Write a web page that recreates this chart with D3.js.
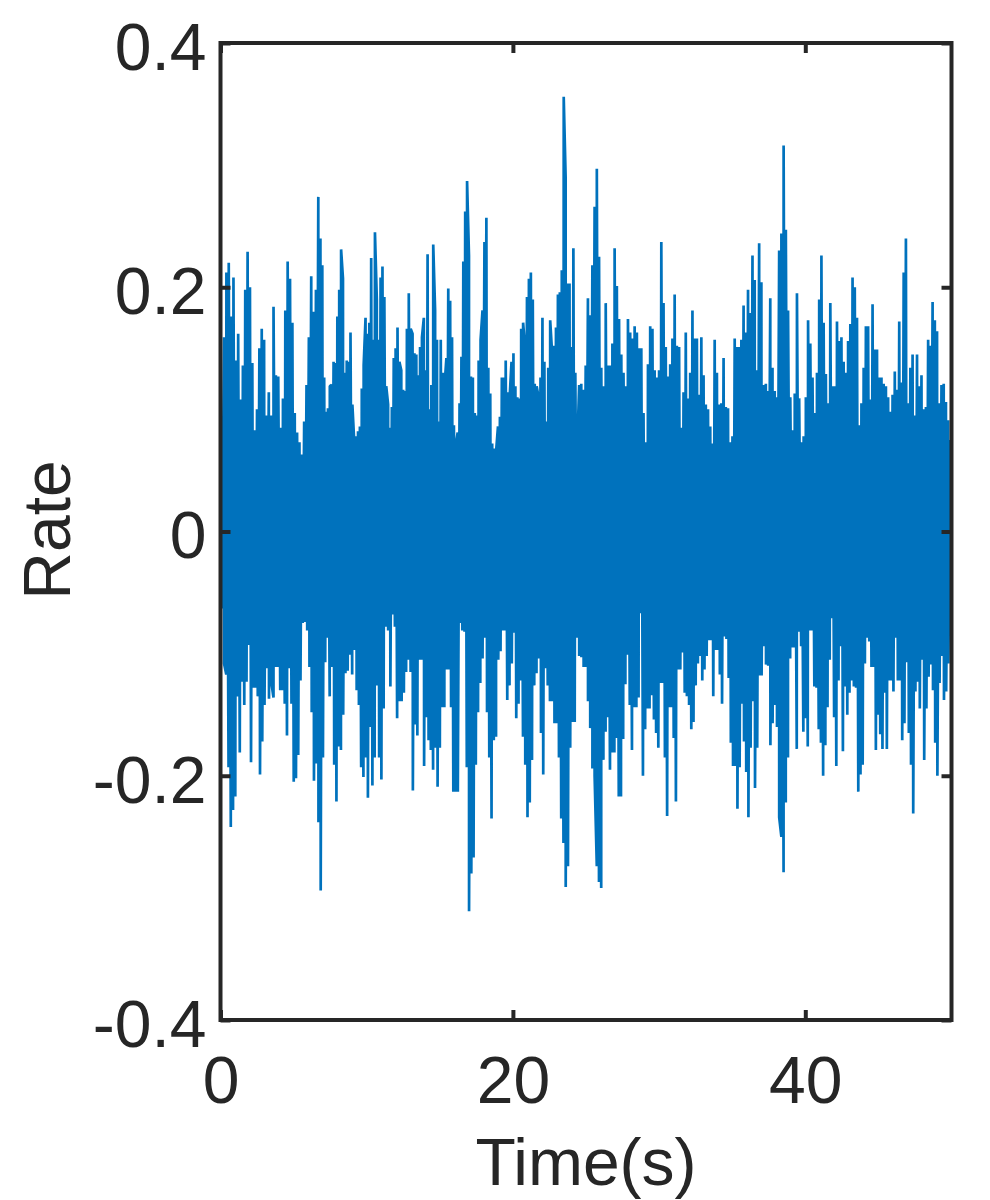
<!DOCTYPE html>
<html>
<head>
<meta charset="utf-8">
<script src="https://cdn.jsdelivr.net/npm/d3@7"></script>
<style>
  html, body { margin: 0; padding: 0; background: #fff; }
  svg { display: block; }
</style>
</head>
<body>
<script>
// ---- Data ----
const xTicks = [0, 20, 40];
const yTicks = [-0.4, -0.2, 0, 0.2, 0.4];
const yTickLabels = ["-0.4", "-0.2", "0", "0.2", "0.4"];
const xLabel = "Time(s)";
const yLabel = "Rate";

// upper excursions (local maxima) of the signal, in time order, in four stretches
const upperBounds = [0, 6.77, 16.93, 24.6, 50]; // times (s) that bound each stretch
const upperPart1 = [0.069, 0.159, 0.212, 0.22, 0.176, 0.208, 0.14, 0.162, 0.108, 0.136, 0.198, 0.229, 0.2, 0.138, 0.083, 0.1, 0.15, 0.166, 0.157, 0.095, 0.114, 0.095, 0.184, 0.128, 0.127, 0.085, 0.109, 0.181, 0.221, 0.207, 0.171, 0.097, 0.081, 0.073, 0.063, 0.09, 0.12, 0.159, 0.209, 0.18, 0.198, 0.274];
const upperPart2 = [0.24, 0.218, 0.126, 0.098, 0.101, 0.119, 0.12, 0.139, 0.138, 0.176, 0.198, 0.231, 0.207, 0.13, 0.14, 0.139, 0.163, 0.104, 0.073, 0.078, 0.082, 0.086, 0.117, 0.136, 0.175, 0.162, 0.171, 0.224, 0.157, 0.245, 0.19, 0.157, 0.208, 0.217, 0.192, 0.119, 0.104, 0.085, 0.102, 0.142, 0.15, 0.167, 0.139, 0.132, 0.116, 0.115, 0.166, 0.195, 0.166, 0.162, 0.146, 0.145, 0.128, 0.151, 0.159, 0.175, 0.132, 0.227, 0.1, 0.12, 0.235, 0.181, 0.157, 0.09, 0.157, 0.13, 0.119, 0.142, 0.199, 0.189, 0.159, 0.087, 0.071, 0.081, 0.105, 0.143, 0.221, 0.262, 0.287];
const upperPart3 = [0.226, 0.127, 0.126, 0.097, 0.095, 0.14, 0.157, 0.181, 0.237, 0.257, 0.134, 0.113, 0.072, 0.068, 0.065, 0.086, 0.094, 0.126, 0.126, 0.14, 0.114, 0.109, 0.139, 0.146, 0.119, 0.11, 0.109, 0.166, 0.171, 0.151, 0.192, 0.207, 0.212, 0.19, 0.121, 0.119, 0.11, 0.126, 0.175, 0.139, 0.09, 0.134, 0.173, 0.146, 0.152, 0.167, 0.194, 0.196, 0.214, 0.356, 0.29, 0.203, 0.203, 0.151, 0.232, 0.13, 0.069, 0.12];
const upperPart4 = [0.121, 0.116, 0.136, 0.191, 0.177, 0.218, 0.266, 0.297, 0.225, 0.134, 0.119, 0.187, 0.136, 0.136, 0.154, 0.232, 0.201, 0.174, 0.145, 0.13, 0.119, 0.174, 0.163, 0.158, 0.168, 0.163, 0.15, 0.15, 0.097, 0.073, 0.137, 0.168, 0.166, 0.132, 0.126, 0.132, 0.237, 0.187, 0.151, 0.127, 0.137, 0.158, 0.194, 0.152, 0.151, 0.085, 0.114, 0.163, 0.109, 0.13, 0.181, 0.158, 0.158, 0.112, 0.159, 0.128, 0.104, 0.1, 0.086, 0.072, 0.157, 0.13, 0.104, 0.105, 0.142, 0.102, 0.101, 0.073, 0.078, 0.158, 0.151, 0.151, 0.157, 0.185, 0.163, 0.198, 0.179, 0.226, 0.206, 0.132, 0.236, 0.204, 0.12, 0.121, 0.115, 0.191, 0.134, 0.115, 0.11, 0.23, 0.244, 0.316, 0.247, 0.181, 0.11, 0.083, 0.113, 0.195, 0.109, 0.073, 0.078, 0.11, 0.173, 0.154, 0.126, 0.097, 0.13, 0.19, 0.226, 0.171, 0.129, 0.105, 0.187, 0.119, 0.119, 0.172, 0.156, 0.159, 0.139, 0.13, 0.156, 0.17, 0.208, 0.2, 0.175, 0.087, 0.105, 0.134, 0.168, 0.168, 0.108, 0.186, 0.149, 0.149, 0.126, 0.126, 0.121, 0.119, 0.11, 0.098, 0.112, 0.131, 0.116, 0.172, 0.122, 0.212, 0.24, 0.105, 0.134, 0.145, 0.095, 0.145, 0.119, 0.128, 0.1, 0.102, 0.157, 0.152, 0.188, 0.173, 0.164, 0.105, 0.12, 0.121, 0.106, 0.091, 0.075];

// lower excursions (local minima) of the signal, in time order, in two stretches
const lowerBounds = [0, 24.6, 50];
const lowerPart1 = [-0.063, -0.108, -0.117, -0.193, -0.242, -0.228, -0.217, -0.135, -0.181, -0.123, -0.142, -0.123, -0.093, -0.189, -0.128, -0.128, -0.135, -0.199, -0.172, -0.142, -0.112, -0.137, -0.123, -0.136, -0.111, -0.111, -0.13, -0.13, -0.141, -0.167, -0.112, -0.141, -0.205, -0.202, -0.183, -0.122, -0.075, -0.074, -0.081, -0.111, -0.148, -0.204, -0.19, -0.238, -0.294, -0.185, -0.107, -0.087, -0.135, -0.111, -0.191, -0.221, -0.176, -0.179, -0.15, -0.116, -0.114, -0.101, -0.117, -0.097, -0.13, -0.142, -0.193, -0.201, -0.185, -0.218, -0.16, -0.208, -0.185, -0.126, -0.185, -0.203, -0.145, -0.078, -0.081, -0.127, -0.068, -0.078, -0.153, -0.139, -0.139, -0.132, -0.115, -0.105, -0.115, -0.212, -0.158, -0.167, -0.105, -0.105, -0.192, -0.152, -0.171, -0.179, -0.195, -0.177, -0.209, -0.177, -0.144, -0.144, -0.113, -0.113, -0.144, -0.213, -0.213, -0.213, -0.075, -0.081, -0.082, -0.193, -0.311, -0.28, -0.267, -0.191, -0.148, -0.124, -0.104, -0.087, -0.148, -0.185, -0.235, -0.171, -0.168, -0.105, -0.098, -0.081, -0.081, -0.138, -0.126, -0.108, -0.083, -0.153, -0.141, -0.122, -0.168, -0.191, -0.234, -0.222, -0.187, -0.126, -0.116, -0.104, -0.165, -0.199, -0.112, -0.126, -0.139, -0.139, -0.157, -0.157, -0.185, -0.235, -0.255, -0.291, -0.274, -0.177, -0.156, -0.156, -0.087, -0.102];
const lowerPart2 = [-0.103, -0.111, -0.111, -0.139, -0.161, -0.194, -0.2, -0.274, -0.287, -0.292, -0.187, -0.164, -0.152, -0.195, -0.181, -0.181, -0.169, -0.217, -0.217, -0.17, -0.125, -0.101, -0.142, -0.179, -0.144, -0.144, -0.136, -0.067, -0.2, -0.162, -0.145, -0.145, -0.134, -0.154, -0.165, -0.177, -0.124, -0.124, -0.185, -0.233, -0.144, -0.144, -0.169, -0.221, -0.113, -0.113, -0.099, -0.132, -0.135, -0.142, -0.162, -0.156, -0.126, -0.108, -0.102, -0.122, -0.113, -0.102, -0.089, -0.089, -0.135, -0.097, -0.097, -0.117, -0.141, -0.086, -0.088, -0.12, -0.173, -0.192, -0.192, -0.227, -0.193, -0.141, -0.172, -0.197, -0.234, -0.177, -0.139, -0.21, -0.177, -0.118, -0.118, -0.094, -0.109, -0.11, -0.175, -0.157, -0.142, -0.16, -0.234, -0.25, -0.279, -0.222, -0.185, -0.104, -0.095, -0.095, -0.178, -0.082, -0.094, -0.164, -0.153, -0.176, -0.081, -0.081, -0.127, -0.128, -0.162, -0.173, -0.2, -0.175, -0.144, -0.105, -0.071, -0.152, -0.192, -0.122, -0.094, -0.18, -0.127, -0.15, -0.132, -0.122, -0.127, -0.128, -0.213, -0.199, -0.191, -0.108, -0.087, -0.09, -0.111, -0.111, -0.179, -0.15, -0.166, -0.178, -0.132, -0.178, -0.122, -0.122, -0.131, -0.087, -0.122, -0.122, -0.171, -0.157, -0.107, -0.165, -0.191, -0.231, -0.131, -0.123, -0.145, -0.105, -0.187, -0.145, -0.119, -0.109, -0.13, -0.173, -0.2, -0.124, -0.102, -0.138, -0.131, -0.108, -0.079];

// ---- Build the time series: readings are spread evenly across their stretch ----
function place(values, t0, t1, shift) {
  const n = values.length, dt = (t1 - t0) / n;
  return values.map((v, i) => ({ t: t0 + (i + 0.5) * dt + shift, v }));
}
function stretches(parts, bounds, shift) {
  return [].concat(...parts.map((p, k) => place(p, bounds[k], bounds[k + 1], shift)));
}
const series = [].concat(
  stretches([upperPart1, upperPart2, upperPart3, upperPart4], upperBounds, 0),
  stretches([lowerPart1, lowerPart2], lowerBounds, 0.012)
).sort((a, b) => a.t - b.t);

// ---- Drawing ----
const W = 990, H = 1200;
const plot = { left: 220.5, right: 951.5, top: 43, bottom: 1020 };
const ink = "#262626";
const font = "'Liberation Sans', Arial, Helvetica, sans-serif";
const fs = 66;

const svg = d3.select("body").append("svg").attr("width", W).attr("height", H);
svg.append("rect").attr("width", W).attr("height", H).attr("fill", "#fff");

const x = d3.scaleLinear().domain([0, 50]).range([plot.left, plot.right]);
const y = d3.scaleLinear().domain([-0.4, 0.4]).range([plot.bottom, plot.top]);

svg.append("clipPath").attr("id", "clip").append("rect")
  .attr("x", plot.left).attr("y", plot.top)
  .attr("width", plot.right - plot.left).attr("height", plot.bottom - plot.top);

const line = d3.line().x(d => x(d.t)).y(d => y(d.v));
svg.append("path")
  .datum(series)
  .attr("clip-path", "url(#clip)")
  .attr("fill", "none")
  .attr("stroke", "#0072BD")
  .attr("stroke-width", 2.7)
  .attr("stroke-linejoin", "bevel")
  .attr("d", line);

function styleAxis(g) {
  g.select(".domain").remove();
  g.selectAll(".tick line").attr("stroke", ink).attr("stroke-width", 4);
  g.selectAll(".tick text").attr("fill", ink).attr("font-family", font).attr("font-size", fs);
}

const fmtY = d => yTickLabels[yTicks.findIndex(t => Math.abs(t - d) < 1e-9)];

svg.append("g").attr("transform", `translate(${plot.left},0)`)
  .call(d3.axisLeft(y).tickValues(yTicks).tickFormat(fmtY).tickSizeInner(-10).tickSizeOuter(0).tickPadding(14))
  .call(styleAxis)
  .call(g => g.selectAll(".tick text").attr("dy", "0.4em"));

svg.append("g").attr("transform", `translate(${plot.right},0)`)
  .call(d3.axisRight(y).tickValues(yTicks).tickFormat("").tickSizeInner(-10).tickSizeOuter(0))
  .call(styleAxis);

svg.append("g").attr("transform", `translate(0,${plot.bottom})`)
  .call(d3.axisBottom(x).tickValues(xTicks).tickFormat(d3.format("d")).tickSizeInner(-10).tickSizeOuter(0).tickPadding(36))
  .call(styleAxis);

svg.append("g").attr("transform", `translate(0,${plot.top})`)
  .call(d3.axisTop(x).tickValues(xTicks).tickFormat("").tickSizeInner(-10).tickSizeOuter(0))
  .call(styleAxis);

// axes box
svg.append("rect")
  .attr("x", plot.left).attr("y", plot.top)
  .attr("width", plot.right - plot.left).attr("height", plot.bottom - plot.top)
  .attr("fill", "none").attr("stroke", ink).attr("stroke-width", 4);

svg.append("text")
  .attr("x", (plot.left + plot.right) / 2).attr("y", 1185)
  .attr("text-anchor", "middle").attr("fill", ink)
  .attr("font-family", font).attr("font-size", fs)
  .text(xLabel);

svg.append("text")
  .attr("transform", `translate(70,530) rotate(-90)`)
  .attr("text-anchor", "middle").attr("fill", ink)
  .attr("font-family", font).attr("font-size", fs)
  .text(yLabel);
</script>
</body>
</html>
